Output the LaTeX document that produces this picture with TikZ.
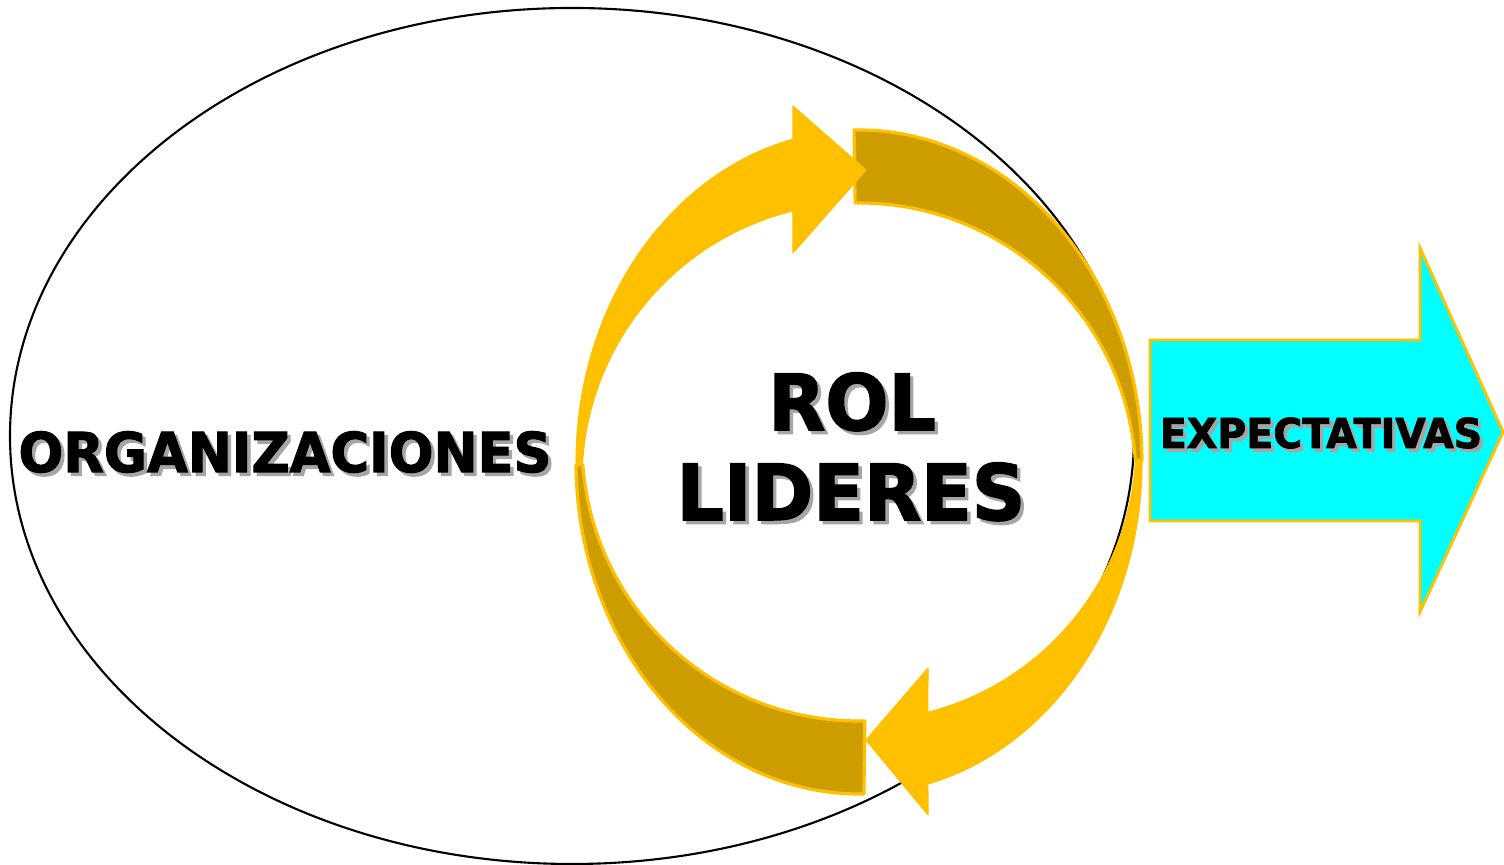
\documentclass[tikz,border=0pt]{standalone}
\usepackage{fontspec}
\setmainfont{DejaVu Sans}
\definecolor{gold}{HTML}{FFC000}
\definecolor{darkgold}{HTML}{CD9D00}
\definecolor{aqua}{HTML}{00FFFF}
\newcommand{\shtext}[1]{\makebox[0pt][l]{\kern1pt\raisebox{-1pt}{\textcolor{black!35}{#1}}}#1}
\tikzset{
  darkband/.style={fill=darkgold, draw=gold, line width=0.9pt, line join=round},
  goldarrow/.style={fill=gold, draw=gold, line width=0.3pt, line join=round},
  cyanarrow/.style={fill=aqua, draw=gold, line width=0.8pt},
  bigword/.style={anchor=base, inner sep=0pt, font=\bfseries\fontsize{#1}{#1}\selectfont\addfontfeature{FakeBold=2}},
}
\begin{document}
\begin{tikzpicture}[x=0.01cm,y=0.01cm]
\useasboundingbox (0,0) rectangle (1504,865);
\path[draw,line width=0.6pt,fill=white] (572,429) ellipse [x radius=562, y radius=428];

\coordinate (ring) at (859,403);
\coordinate (topc) at (859,385);
\coordinate (botc) at (859,421);

\path[darkband] ([shift={(ring)}]91:283 and 332) arc[start angle=91, end angle=0.3, x radius=283, y radius=332]
  -- ([shift={(topc)}]4.1:277) arc[start angle=4.1, end angle=90.8, radius=277] -- cycle;
\path[darkband] ([shift={(ring)}]180.5:283 and 332) arc[start angle=180.5, end angle=271, x radius=283, y radius=332]
  -- ([shift={(botc)}]271.2:277) arc[start angle=271.2, end angle=184.3, radius=277] -- cycle;

\path[goldarrow] ([shift={(ring)}]180.5:283 and 332) arc[start angle=180.5, end angle=103.5, x radius=283, y radius=332]
  -- (793,759) -- (866,695) -- (793,612)
  -- ([shift={(topc)}]103.8:277) arc[start angle=103.8, end angle=176.9, radius=277] -- cycle;
\path[goldarrow] ([shift={(ring)}]0.3:283 and 332) arc[start angle=0.3, end angle=-75.9, x radius=283, y radius=332]
  -- (928,50) -- (866,125) -- (928,197)
  -- ([shift={(botc)}]-75.6:277) arc[start angle=-75.6, end angle=-3.3, radius=277] -- cycle;

\path[cyanarrow] (1150,344) -- (1420,344) -- (1420,253) -- (1503,433) -- (1420,617) -- (1420,525) -- (1150,525) -- cycle;

\node[bigword=15.6] (org) at (285,393) {\scalebox{0.96}[1]{\shtext{ORGANIZACIONES}}};
\node[bigword=22] (rol) at (852,435) {\scalebox{0.96}[1]{\shtext{ROL}}};
\node[bigword=22] (lid) at (851,345) {\scalebox{0.96}[1]{\shtext{LIDERES}}};
\node[bigword=11.7] (exp) at (1321,417) {\scalebox{0.96}[1]{\shtext{EXPECTATIVAS}}};
\end{tikzpicture}
\end{document}
